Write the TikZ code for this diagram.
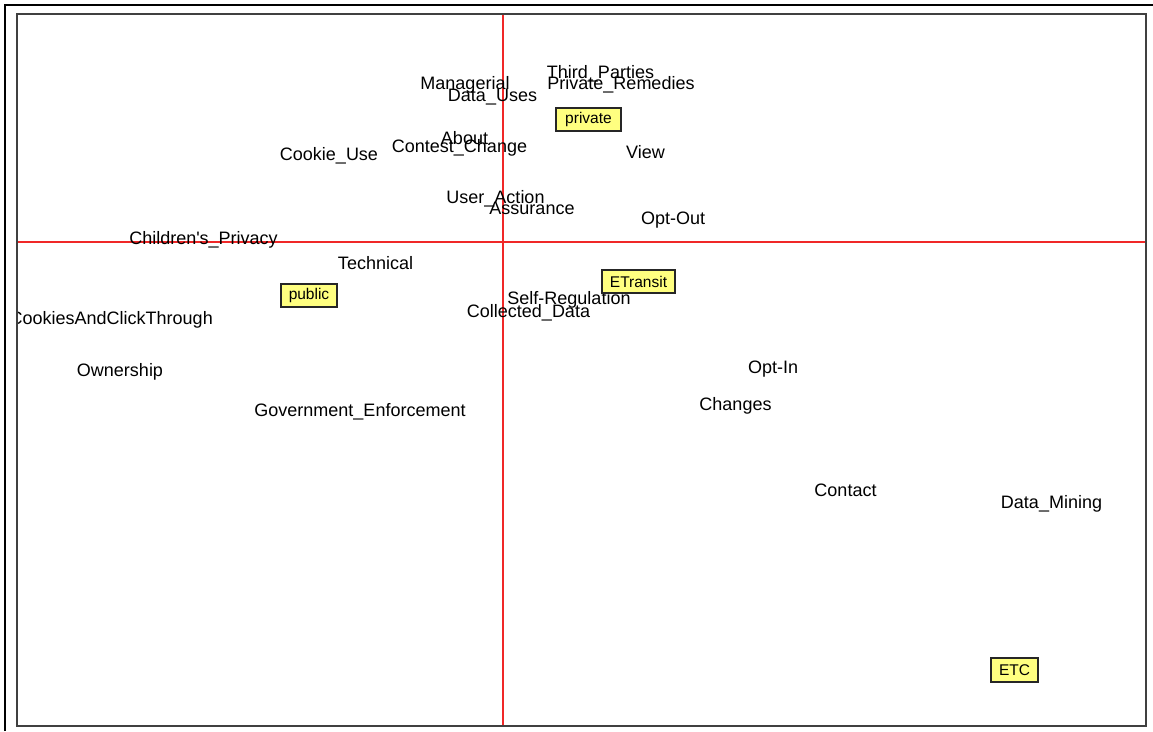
\documentclass[tikz,border=0pt]{standalone}
\usepackage{fontspec}
\newfontfamily\lib{Liberation Sans}
\definecolor{boxy}{RGB}{255,255,128}
\definecolor{axisred}{RGB}{240,40,40}
\begin{document}
\begin{tikzpicture}[x=1pt,y=-1pt,
  lbl/.style={anchor=base, inner sep=0pt, font=\lib\fontsize{18}{18}\selectfont},
  cat/.style={draw=black!85, line width=1.3pt, fill=boxy, inner sep=0pt,
    font=\lib\fontsize{15.5}{15.5}\selectfont, minimum height=23pt},
  axis/.style={draw=axisred, line width=1.4pt}]
\useasboundingbox (0,0) rectangle (1153,731);
\fill[white] (0,0) rectangle (1153,731);
% outer frame (top and left edges visible)
\draw[line width=1.3pt, black] (5,731) -- (5,5) -- (1153,5);
% axes
\coordinate (vt) at (503,14);
\coordinate (vb) at (503,726);
\coordinate (hl) at (17,242);
\coordinate (hr) at (1146,242);
\draw[axis] (vt) -- (vb);
\draw[axis] (hl) -- (hr);
\begin{scope}
\clip (17,14) rectangle (1146,726);
\node[lbl] (thirdparties) at (600.5,78) {Third\_Parties};
\node[lbl] (privrem) at (621,89) {Private\_Remedies};
\node[lbl] (managerial) at (465,89) {Managerial};
\node[lbl] (datauses) at (492.5,101) {Data\_Uses};
\node[lbl] (about) at (464.5,144) {About};
\node[lbl] (contest) at (459.5,152) {Contest\_Change};
\node[lbl] (view) at (645.5,158) {View};
\node[lbl] (useraction) at (495.5,203) {User\_Action};
\node[lbl] (assurance) at (532,214) {Assurance};
\node[lbl] (optout) at (673,224) {Opt-Out};
\node[lbl] (cookieuse) at (329,160) {Cookie\_Use};
\node[lbl] (children) at (203.5,244) {Children's\_Privacy};
\node[lbl] (technical) at (375.5,269) {Technical};
\node[lbl, anchor=base east] (cookiesclick) at (213,324) {CookiesAndClickThrough};
\node[lbl] (ownership) at (120,376) {Ownership};
\node[lbl] (selfreg) at (569,304) {Self-Regulation};
\node[lbl] (collected) at (528.5,317) {Collected\_Data};
\node[lbl] (govenf) at (360,416) {Government\_Enforcement};
\node[lbl] (optin) at (773,373) {Opt-In};
\node[lbl] (changes) at (735.5,410) {Changes};
\node[lbl] (contact) at (845.5,496) {Contact};
\node[lbl] (datamining) at (1051.5,508) {Data\_Mining};
% category boxes
\node[cat, minimum width=65pt] (private) at (588.5,119.5) {private};
\node[cat, minimum width=56pt] (public) at (309,295.5) {public};
\node[cat, minimum width=73pt] (etransit) at (638.5,281.5) {ETransit};
\node[cat, minimum width=47pt, minimum height=24pt] (etc) at (1014.5,670) {ETC};
\end{scope}
% inner frame
\draw[line width=2pt, black!75] (17,14) rectangle (1146,726);
\end{tikzpicture}
\end{document}
